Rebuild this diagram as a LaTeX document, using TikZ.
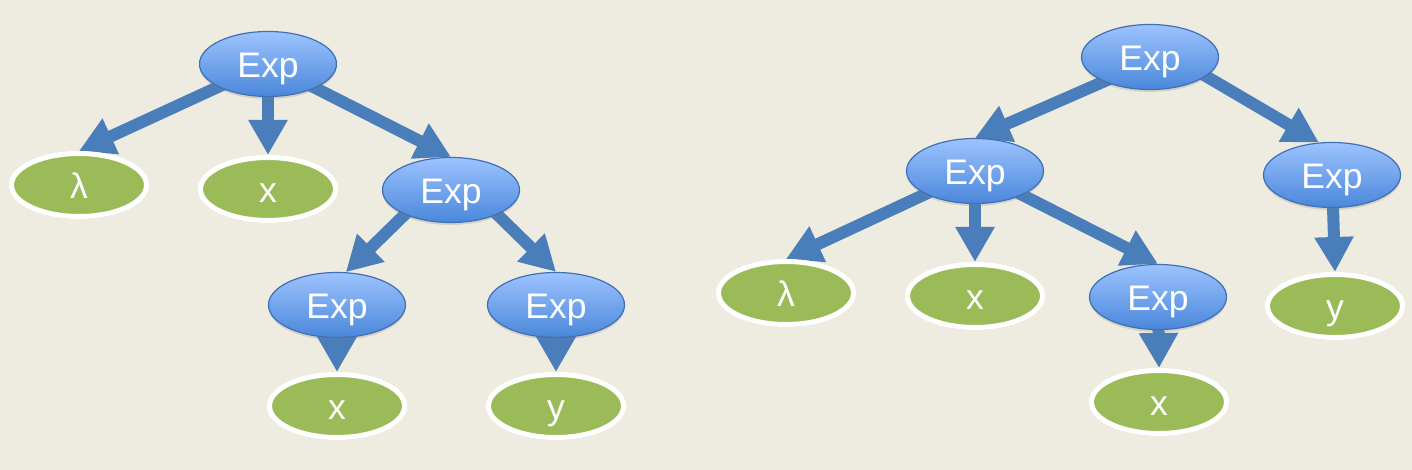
\documentclass[tikz,border=0pt]{standalone}
\usepackage{fontspec}
\setmainfont{Liberation Sans}
\usetikzlibrary{arrows.meta,shapes.geometric,shadows}
\definecolor{bgc}{HTML}{EEEBE0}
\definecolor{expTop}{HTML}{9DC3FF}
\definecolor{expBot}{HTML}{4A87DA}
\definecolor{expLine}{HTML}{3F70B5}
\definecolor{leafGreen}{HTML}{9BBB59}
\definecolor{arrC}{HTML}{4A7EBB}
\pgfdeclarelayer{backdrop}
\pgfdeclarelayer{edges}
\pgfsetlayers{backdrop,edges,main}
\begin{document}
\begin{tikzpicture}[x=1pt,y=1pt,
  exp/.style={ellipse, minimum width=137pt, minimum height=65pt, inner sep=0pt,
    top color=expTop, bottom color=expBot, draw=expLine, line width=1.2pt,
    text=white, font=\fontsize{35.5}{40}\selectfont, text height=27pt, text depth=0pt,
    drop shadow={opacity=0.25, shadow xshift=0pt, shadow yshift=-2.5pt}},
  leaf/.style={ellipse, minimum width=135pt, minimum height=63pt, inner sep=0pt,
    fill=leafGreen, draw=white, line width=5pt,
    text=white, font=\fontsize{35.5}{40}\selectfont, text height=27pt, text depth=0pt,
    drop shadow={opacity=0.25, shadow xshift=0pt, shadow yshift=-2.5pt}},
  arr/.style={draw=arrC, line width=12pt, shorten <=-10pt,
    -{Triangle[length=35pt,width=37pt]}}]
\begin{pgfonlayer}{backdrop}
  \fill[bgc] (0,0) rectangle (1412,470);
\end{pgfonlayer}
\useasboundingbox (0,0) rectangle (1412,470);
% left tree
\node[exp]  (E1) at (268,406) {Exp};
\node[leaf] (L1) at (79,285)  {λ};
\node[leaf] (X1) at (268,281) {x};
\node[exp]  (E2) at (451,280) {Exp};
\node[exp]  (E3) at (337,165) {Exp};
\node[exp]  (E4) at (556,165) {Exp};
\node[leaf] (X2) at (337,64)  {x};
\node[leaf] (Y1) at (556,64)  {y};
% right tree
\node[exp]  (R1) at (1150,413) {Exp};
\node[exp]  (R2) at (975,299)  {Exp};
\node[exp]  (R3) at (1332,295) {Exp};
\node[leaf] (RL) at (786,177)  {λ};
\node[leaf] (RX) at (975,174)  {x};
\node[exp]  (R4) at (1158,173) {Exp};
\node[leaf] (RX2) at (1159,68) {x};
\node[leaf] (RY) at (1335,164) {y};
\begin{pgfonlayer}{edges}
  \draw[arr] (E1) -- (L1.north);
  \draw[arr] (E1) -- (X1.north);
  \draw[arr] (E1) -- (E2.north);
  \draw[arr] (E2.208) -- (E3.75);
  \draw[arr] (E2.332) -- (E4.north);
  \draw[arr] (E3) -- (X2.north);
  \draw[arr] (E4) -- (Y1.north);
  \draw[arr] (R1.208) -- (R2.north);
  \draw[arr] (R1.341) -- (R3.112);
  \draw[arr] (R2) -- (RL.north);
  \draw[arr] (R2) -- (RX.north);
  \draw[arr] (R2) -- (R4.north);
  \draw[arr] (R3) -- (RY.north);
  \draw[arr] (R4) -- (RX2.north);
\end{pgfonlayer}
\end{tikzpicture}
\end{document}
